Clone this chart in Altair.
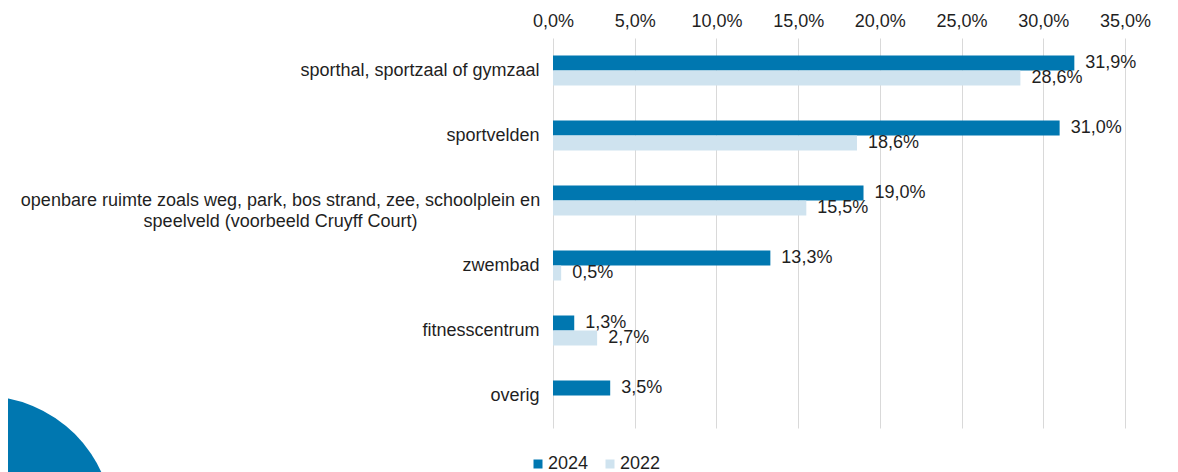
import altair as alt
import pandas as pd

categories = [
    "sporthal, sportzaal of gymzaal",
    "sportvelden",
    "openbare ruimte zoals weg, park, bos strand, zee, schoolplein en|speelveld (voorbeeld Cruyff Court)",
    "zwembad",
    "fitnesscentrum",
    "overig",
]
years = ["2024", "2022"]
values_2024 = [31.9, 31.0, 19.0, 13.3, 1.3, 3.5]
values_2022 = [28.6, 18.6, 15.5, 0.5, 2.7, None]
x_ticks = [0, 5, 10, 15, 20, 25, 30, 35]
colors = ["#0077B0", "#CFE3EF"]

rows = []
for c, v in zip(categories, values_2024):
    rows.append({"cat": c, "year": "2024", "v": v})
for c, v in zip(categories, values_2022):
    if v is not None:
        rows.append({"cat": c, "year": "2022", "v": v})
df = pd.DataFrame(rows)

FONT = "Liberation Sans"
TXT = "#1f1f1f"

y_enc = alt.Y(
    "cat:N",
    sort=categories,
    title=None,
    scale=alt.Scale(paddingInner=35 / 65, paddingOuter=17.5 / 65),
    axis=alt.Axis(
        domain=False,
        ticks=False,
        labelExpr="split(datum.label, '|')",
        labelAlign={"condition": {"test": "indexof(datum.value, '|') >= 0", "value": "center"}, "value": "right"},
        labelPadding={"condition": {"test": "indexof(datum.value, '|') >= 0", "value": 273}, "value": 14},
        labelFontSize=18,
        labelLineHeight=21,
        labelLimit=600,
        labelColor=TXT,
        labelFont=FONT,
    ),
)
yoff = alt.YOffset("year:N", sort=years, scale=alt.Scale(paddingInner=0, paddingOuter=0))
x_enc = alt.X(
    "v:Q",
    title=None,
    scale=alt.Scale(domain=[0, 35], nice=False),
    axis=alt.Axis(
        orient="top",
        values=x_ticks,
        labelExpr="replace(format(datum.value, '.1f'), '.', ',') + '%'",
        domain=False,
        ticks=False,
        tickSize=0,
        labelPadding=8,
        labelFlush=False,
        labelOverlap=False,
        labelBound=False,
        labelFontSize=18,
        labelColor=TXT,
        labelFont=FONT,
        grid=True,
        gridColor="#d9d9d9",
        gridWidth=1,
    ),
)

circle = alt.Chart(pd.DataFrame({"a": [0]})).mark_circle(
    color="#0077B0", opacity=1, size=67600
).encode(x=alt.value(-570), y=alt.value(488))

bars = alt.Chart(df).mark_bar().encode(
    y=y_enc,
    yOffset=yoff,
    x=x_enc,
    color=alt.Color(
        "year:N",
        sort=years,
        scale=alt.Scale(domain=years, range=colors),
        legend=alt.Legend(
            title=None,
            orient="none",
            direction="horizontal",
            legendX=-24,
            legendY=417,
            symbolType="square",
            symbolSize=81,
            symbolStrokeWidth=0,
            labelFontSize=18,
            labelFont=FONT,
            labelColor=TXT,
            columnPadding=12,
            labelOffset=1,
        ),
    ),
)

labels = alt.Chart(df).transform_calculate(
    lbl="replace(format(datum.v, '.1f'), '.', ',') + '%'"
).mark_text(
    align="left", baseline="middle", dx=11, fontSize=18, font=FONT, color=TXT
).encode(y=alt.Y("cat:N", sort=categories), yOffset=yoff, x="v:Q", text="lbl:N")

chart = alt.layer(circle, bars, labels).properties(
    width=572,
    height=390,
    autosize=alt.AutoSizeParams(type="none"),
    padding={"left": 545, "top": 30, "right": 45, "bottom": 44},
).configure_view(stroke=None)

chart.save("out.html", embed_options={"renderer": "svg", "actions": False})
